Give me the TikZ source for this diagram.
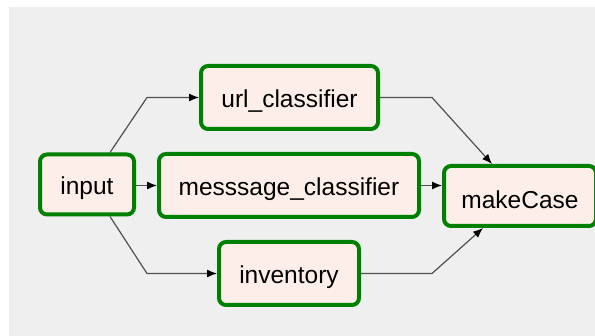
\documentclass[tikz,border=0pt]{standalone}
\usepackage{fontspec}
\setmainfont{Liberation Sans}
\usetikzlibrary{arrows.meta}
\definecolor{canvasgray}{HTML}{EFEFEF}
\definecolor{boxfill}{HTML}{FDEEEA}
\definecolor{boxedge}{HTML}{008000}
\definecolor{wire}{HTML}{505050}
\tikzset{
  stage/.style={draw=boxedge, fill=boxfill, line width=4pt, rounded corners=7pt,
    inner sep=0pt, font=\fontsize{24.5}{28}\selectfont,
    text height=22pt, text depth=1pt, minimum height=63pt},
  flow/.style={draw=wire, line width=1.2pt,
    -{Latex[length=10pt,width=8pt,color=black]}}
}
\begin{document}
\begin{tikzpicture}[x=1pt,y=-1pt]
\useasboundingbox (0,0) rectangle (595,336);
\fill[canvasgray] (9,7) rectangle (595,336);

\node[stage, minimum width=94pt, minimum height=60pt] (input) at (87,184.5) {input};
\node[stage, minimum width=177pt] (url) at (289.5,97.5) {url\_classifier};
\node[stage, minimum width=260pt] (msg) at (289,185.5) {messsage\_classifier};
\node[stage, minimum width=140pt] (inv) at (289,273.5) {inventory};
\node[stage, minimum width=152pt, minimum height=60pt, text height=27pt] (case) at (520,196) {makeCase};

\coordinate (upbend) at (147,97.5);
\coordinate (downbend) at (147,273.5);
\coordinate (upjoin) at (432,97.5);
\coordinate (downjoin) at (432,273.5);

\draw[flow] ([xshift=23pt]input.north) -- (upbend) -- (url.west);
\draw[flow] (input.east |- msg.west) -- (msg.west);
\draw[flow] ([xshift=23pt]input.south) -- (downbend) -- (inv.west);

\draw[flow] (url.east) -- (upjoin) -- ([xshift=-28pt]case.north);
\draw[flow] (msg.east) -- (case.west |- msg.east);
\draw[flow] (inv.east) -- (downjoin) -- ([xshift=-37pt]case.south);
\end{tikzpicture}
\end{document}
